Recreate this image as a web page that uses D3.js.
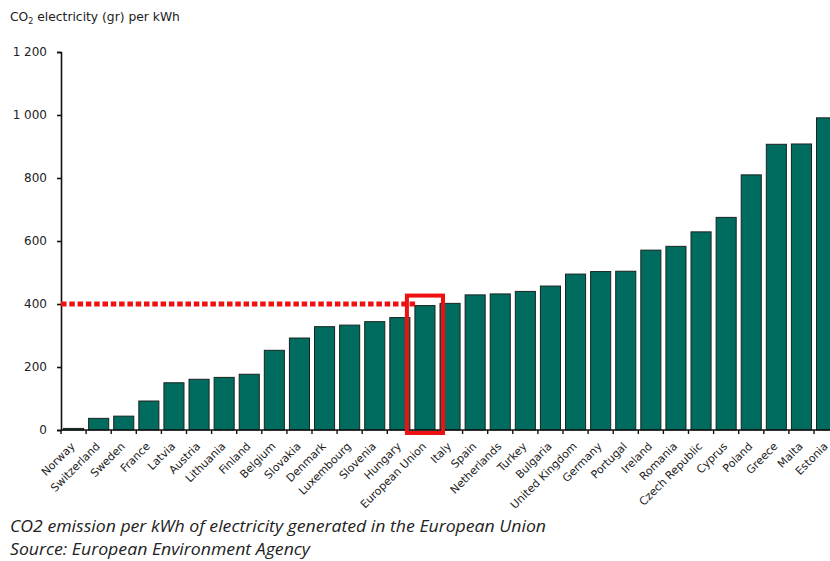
<!DOCTYPE html>
<html>
<head>
<meta charset="utf-8">
<script src="https://cdn.jsdelivr.net/npm/d3@7"></script>
<style>
  html, body { margin: 0; padding: 0; background: #fff; }
  svg { display: block; }
</style>
</head>
<body>
<svg id="chart" width="830" height="561"></svg>
<script>
// Grams of CO2 emitted per kWh of electricity, by country
const countries = [
  "Norway", "Switzerland", "Sweden", "France", "Latvia", "Austria", "Lithuania",
  "Finland", "Belgium", "Slovakia", "Denmark", "Luxembourg", "Slovenia", "Hungary",
  "European Union", "Italy", "Spain", "Netherlands", "Turkey", "Bulgaria",
  "United Kingdom", "Germany", "Portugal", "Ireland", "Romania", "Czech Republic",
  "Cyprus", "Poland", "Greece", "Malta", "Estonia"
];
const co2PerKwh = [
  5, 37, 44, 92, 150, 161, 167,
  177, 253, 292, 328, 333, 344, 357,
  395, 402, 429, 432, 440, 457,
  495, 503, 504, 571, 583, 629,
  675, 810, 907, 908, 991
];
const yTicks = [0, 200, 400, 600, 800, 1000, 1200];
const highlight = "European Union";
const referenceLevel = 400;

const svg = d3.select("#chart");
const x0 = 61, plotTop = 52, plotBottom = 430, band = 25.1;

const x = d3.scaleBand()
  .domain(countries)
  .range([x0, x0 + band * countries.length])
  .paddingInner(0.2)
  .paddingOuter(0.1);

const y = d3.scaleLinear().domain([0, 1200]).range([plotBottom, plotTop]);

const fmt = v => d3.format(",")(v).replace(/,/g, " ");

// Title with subscripted 2
const title = svg.append("text")
  .attr("x", 10).attr("y", 21)
  .attr("font-family", "DejaVu Sans, Verdana, sans-serif")
  .attr("font-size", 12.3)
  .attr("fill", "#222");
title.append("tspan").text("CO");
title.append("tspan").attr("font-size", 8).attr("dy", 3).text("2");
title.append("tspan").attr("dy", -3).text(" electricity (gr) per kWh");

// Bars
const data = countries.map((c, i) => ({ country: c, value: co2PerKwh[i] }));
svg.append("g").selectAll("rect")
  .data(data)
  .join("rect")
  .attr("x", d => x(d.country))
  .attr("y", d => y(d.value))
  .attr("width", x.bandwidth())
  .attr("height", d => plotBottom - y(d.value))
  .attr("fill", "#006b5f")
  .attr("stroke", "#1a2420")
  .attr("stroke-width", 1);

// Y axis
const yAxis = svg.append("g")
  .attr("transform", `translate(${x0},0)`)
  .call(d3.axisLeft(y).tickValues(yTicks).tickFormat(fmt).tickSize(4).tickPadding(10));
yAxis.select(".domain").attr("stroke", "#111").attr("stroke-width", 1.6);
yAxis.selectAll(".tick line").attr("stroke", "#111").attr("stroke-width", 1.6);
yAxis.selectAll(".tick text")
  .attr("font-family", "DejaVu Sans, Verdana, sans-serif")
  .attr("font-size", 12)
  .attr("fill", "#222");

// X axis baseline with ticks on the band boundaries
const xg = svg.append("g");
xg.append("line")
  .attr("x1", x0).attr("x2", 830)
  .attr("y1", plotBottom).attr("y2", plotBottom)
  .attr("stroke", "#111").attr("stroke-width", 1.6);
const step = x.step();
const boundary = i => x0 + i * step;
xg.selectAll("line.tk")
  .data(d3.range(countries.length + 1))
  .join("line")
  .attr("class", "tk")
  .attr("x1", boundary)
  .attr("x2", boundary)
  .attr("y1", plotBottom).attr("y2", plotBottom + 4)
  .attr("stroke", "#111").attr("stroke-width", 1.4);

// Rotated category labels
xg.selectAll("text")
  .data(countries)
  .join("text")
  .attr("transform", d => `translate(${x(d) + x.bandwidth() / 2 + 2},${plotBottom + 17}) rotate(-45)`)
  .attr("text-anchor", "end")
  .attr("font-family", "DejaVu Sans, Verdana, sans-serif")
  .attr("font-size", 11)
  .attr("fill", "#222")
  .text(d => d);

// Dotted reference line at the EU average
svg.append("line")
  .attr("x1", x0).attr("x2", x(highlight) + 3)
  .attr("y1", y(referenceLevel)).attr("y2", y(referenceLevel))
  .attr("stroke", "#ee1111")
  .attr("stroke-width", 5)
  .attr("stroke-dasharray", "5.5,2.8");

// Frame around the EU bar
const euVal = co2PerKwh[countries.indexOf(highlight)];
svg.append("rect")
  .attr("x", x(highlight) - 8)
  .attr("y", y(euVal) - 10)
  .attr("width", x.bandwidth() + 16)
  .attr("height", plotBottom + 3 - (y(euVal) - 10))
  .attr("fill", "none")
  .attr("stroke", "#ee1111")
  .attr("stroke-width", 4);

// Caption
const cap = svg.append("g")
  .attr("font-family", "Liberation Sans Narrow, Open Sans, sans-serif")
  .attr("font-style", "italic")
  .attr("font-size", 16)
  .attr("fill", "#222");
cap.append("text").attr("x", 10).attr("y", 532)
  .attr("textLength", 536).attr("lengthAdjust", "spacingAndGlyphs")
  .text("CO2 emission per kWh of electricity generated in the European Union");
cap.append("text").attr("x", 10).attr("y", 555)
  .attr("textLength", 300).attr("lengthAdjust", "spacingAndGlyphs")
  .text("Source: European Environment Agency");
</script>
</body>
</html>
